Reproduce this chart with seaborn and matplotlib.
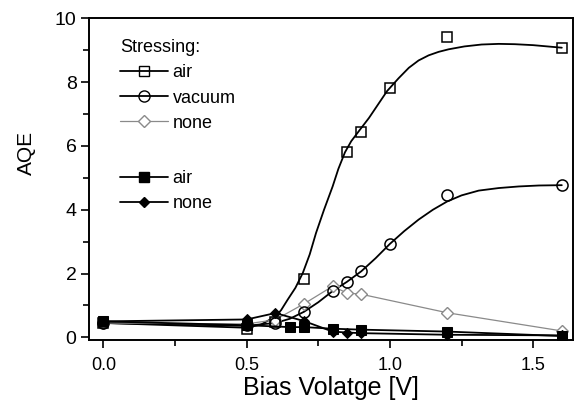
import matplotlib
matplotlib.use("Agg")
import matplotlib.pyplot as plt
from matplotlib.lines import Line2D
from matplotlib.ticker import MultipleLocator
import seaborn as sns

sns.set_theme(style="ticks")
plt.rcParams['font.family'] = ['Liberation Sans', 'DejaVu Sans']
plt.rcParams['text.color'] = 'black'
plt.rcParams['axes.labelcolor'] = 'black'
plt.rcParams['xtick.color'] = 'black'
plt.rcParams['ytick.color'] = 'black'

# ---- data ----
# stressed in air (open squares) - measured points
air_x = [0.0, 0.5, 0.6, 0.7, 0.85, 0.9, 1.0, 1.2, 1.6]
air_y = [0.45, 0.25, 0.48, 1.82, 5.80, 6.45, 7.82, 9.40, 9.08]
# fitted curve through air data
air_fit_x = [0.0, 0.5, 0.55, 0.6, 0.62, 0.643, 0.67, 0.696, 0.72, 0.742, 0.77,
             0.80, 0.82, 0.843, 0.865, 0.892, 0.927, 0.96, 0.99, 1.03, 1.066,
             1.1, 1.135, 1.17, 1.205, 1.26, 1.32, 1.38, 1.436, 1.5, 1.55, 1.6]
air_fit_y = [0.45, 0.30, 0.40, 0.65, 0.85, 1.18, 1.55, 2.02, 2.60, 3.27, 4.00,
             4.73, 5.28, 5.80, 6.15, 6.47, 6.88, 7.32, 7.72, 8.12, 8.45,
             8.68, 8.84, 8.95, 9.03, 9.12, 9.18, 9.20, 9.19, 9.16, 9.12, 9.08]

# stressed in vacuum (open circles)
vac_x = [0.0, 0.5, 0.6, 0.7, 0.8, 0.85, 0.9, 1.0, 1.2, 1.6]
vac_y = [0.45, 0.38, 0.45, 0.80, 1.45, 1.74, 2.07, 2.93, 4.46, 4.77]
vac_fit_x = [0.0, 0.5, 0.6, 0.65, 0.7, 0.75, 0.8, 0.85, 0.9, 0.95, 1.0, 1.05,
             1.1, 1.15, 1.2, 1.25, 1.31, 1.38, 1.45, 1.52, 1.6]
vac_fit_y = [0.45, 0.36, 0.45, 0.58, 0.80, 1.10, 1.45, 1.74, 2.07, 2.48, 2.93,
             3.33, 3.69, 4.00, 4.26, 4.45, 4.60, 4.68, 4.73, 4.76, 4.77]

# no stressing (open grey diamonds)
none_x = [0.0, 0.5, 0.6, 0.7, 0.8, 0.85, 0.9, 1.2, 1.6]
none_y = [0.45, 0.42, 0.55, 1.05, 1.60, 1.39, 1.35, 0.77, 0.20]

# second set: air (filled squares)
airf_x = [0.0, 0.5, 0.65, 0.7, 0.8, 0.9, 1.2, 1.6]
airf_y = [0.50, 0.38, 0.32, 0.32, 0.27, 0.24, 0.18, 0.04]

# second set: none (filled diamonds)
nonef_x = [0.0, 0.5, 0.6, 0.7, 0.8, 0.85, 0.9, 1.2, 1.6]
nonef_y = [0.50, 0.56, 0.76, 0.51, 0.18, 0.15, 0.13, 0.08, 0.06]

legend_title = "Stressing:"
labels = ["air", "vacuum", "none", "air", "none"]

fig = plt.figure(figsize=(5.75, 4.08), dpi=100)
ax = fig.add_axes([0.155, 0.167, 0.842, 0.788])

grey = "#8a8a8a"
lw = 1.3

# lines
sns.lineplot(x=air_fit_x, y=air_fit_y, ax=ax, color="black", lw=lw, sort=False, estimator=None)
sns.lineplot(x=vac_fit_x, y=vac_fit_y, ax=ax, color="black", lw=lw, sort=False, estimator=None)
sns.lineplot(x=none_x, y=none_y, ax=ax, color=grey, lw=0.9, sort=False, estimator=None,
             marker="D", markersize=6, markerfacecolor="white", markeredgecolor=grey,
             markeredgewidth=1.0)
sns.lineplot(x=airf_x, y=airf_y, ax=ax, color="black", lw=lw, sort=False, estimator=None,
             marker="s", markersize=6.5, markerfacecolor="black", markeredgecolor="black")
sns.lineplot(x=nonef_x, y=nonef_y, ax=ax, color="black", lw=lw, sort=False, estimator=None,
             marker="D", markersize=5.5, markerfacecolor="black", markeredgecolor="black")
# markers of fitted series
sns.lineplot(x=air_x, y=air_y, ax=ax, color="black", linestyle="none", sort=False, estimator=None,
             marker="s", markersize=7, markerfacecolor="none", markeredgecolor="black",
             markeredgewidth=1.1)
sns.lineplot(x=vac_x, y=vac_y, ax=ax, color="black", linestyle="none", sort=False, estimator=None,
             marker="o", markersize=8, markerfacecolor="none", markeredgecolor="black",
             markeredgewidth=1.1)

ax.set_xlim(-0.05, 1.64)
ax.set_ylim(-0.08, 10)
ax.xaxis.set_major_locator(MultipleLocator(0.5))
ax.xaxis.set_minor_locator(MultipleLocator(0.25))
ax.yaxis.set_major_locator(MultipleLocator(2))
ax.yaxis.set_minor_locator(MultipleLocator(1))
ax.set_xticks([0.0, 0.5, 1.0, 1.5])
ax.set_xticklabels(["0.0", "0.5", "1.0", "1.5"])
ax.tick_params(axis="x", which="major", length=6, width=1.2, direction="out", labelsize=13, pad=6)
ax.tick_params(axis="y", which="major", length=6, width=1.2, direction="out", labelsize=14, pad=3)
ax.tick_params(which="minor", length=4, width=1.2, direction="out")
for s in ax.spines.values():
    s.set_linewidth(1.4)
    s.set_color("black")
ax.set_xlabel("Bias Volatge [V]", fontsize=18)
ax.set_ylabel("AQE", fontsize=15)
ax.xaxis.set_label_coords(0.5, -0.113)
ax.yaxis.set_label_coords(-0.110, 0.58)

h_open = [
    Line2D([], [], color="black", lw=lw, marker="s", markersize=7, markerfacecolor="none",
           markeredgecolor="black"),
    Line2D([], [], color="black", lw=lw, marker="o", markersize=8, markerfacecolor="none",
           markeredgecolor="black"),
    Line2D([], [], color=grey, lw=0.9, marker="D", markersize=6, markerfacecolor="white",
           markeredgecolor=grey),
]
h_filled = [
    Line2D([], [], color="black", lw=lw, marker="s", markersize=6.5, markerfacecolor="black",
           markeredgecolor="black"),
    Line2D([], [], color="black", lw=lw, marker="D", markersize=5.5, markerfacecolor="black",
           markeredgecolor="black"),
]
common = dict(loc="upper left", frameon=False, fontsize=13, handlelength=2.65,
              handletextpad=0.25, labelspacing=0.45, borderpad=0, borderaxespad=0)
leg1 = ax.legend(h_open, labels[:3], title=legend_title, title_fontsize=13,
                 bbox_to_anchor=(0.064, 0.935), **common)
leg1._legend_box.align = "left"
ax.add_artist(leg1)
leg2 = ax.legend(h_filled, labels[3:], bbox_to_anchor=(0.064, 0.528), **common)

fig.savefig("out.png", dpi=100)
